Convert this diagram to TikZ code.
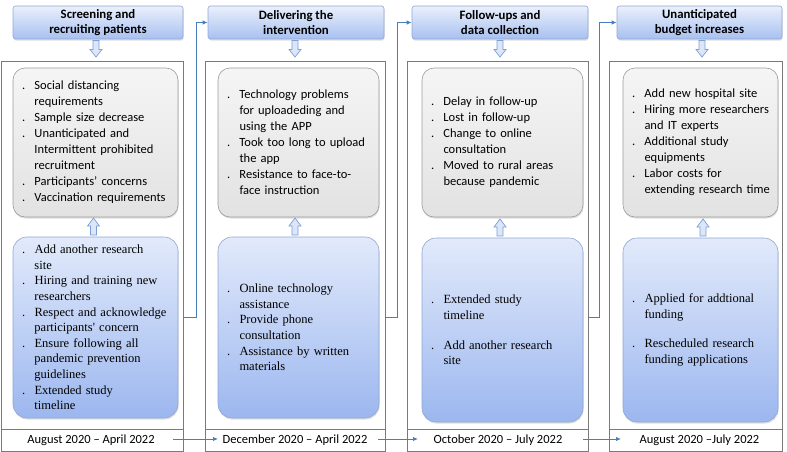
\documentclass[tikz,border=0pt]{standalone}
\usepackage{fontspec}
\setmainfont{Carlito}
\newfontfamily\serifbox{Liberation Serif}
\usetikzlibrary{shadows,arrows.meta}
\definecolor{frame}{HTML}{7A7A7A}
\definecolor{hdrtop}{HTML}{EAF0FC}
\definecolor{hdrbot}{HTML}{A8C0F0}
\definecolor{hdrline}{HTML}{90A8D6}
\definecolor{gtop}{HTML}{F5F5F5}
\definecolor{gbot}{HTML}{E2E2E2}
\definecolor{gline}{HTML}{9C9C9C}
\definecolor{btop}{HTML}{E2EAFB}
\definecolor{bbot}{HTML}{9CB7EF}
\definecolor{bline}{HTML}{8FA6D2}
\definecolor{connc}{HTML}{4A7EBB}
\definecolor{arrline}{HTML}{7A9ED6}
\definecolor{arrfill}{HTML}{DCE6F8}
\newcommand\bl[1]{\mbox{\makebox[12.5pt][l]{.}#1}}
\newcommand\cl[1]{\mbox{\hspace*{12.5pt}#1}}
\newcommand\hollowdown[2]{%
  \filldraw[harr] ({#1-3},{#2}) -- ({#1+3},{#2}) -- ({#1+3},{#2+9}) -- ({#1+6},{#2+9})
    -- ({#1},{#2+16.5}) -- ({#1-6},{#2+9}) -- ({#1-3},{#2+9}) -- cycle;}
\newcommand\hollowup[2]{%
  \filldraw[harr] ({#1-3},{#2}) -- ({#1+3},{#2}) -- ({#1+3},{#2-9}) -- ({#1+6},{#2-9})
    -- ({#1},{#2-17}) -- ({#1-6},{#2-9}) -- ({#1-3},{#2-9}) -- cycle;}
\begin{document}
\begin{tikzpicture}[x=1pt,y=-1pt,
  outer/.style={draw=frame,line width=0.8pt,rectangle,inner sep=0pt,minimum height=390pt},
  hdr/.style={draw=hdrline,line width=0.6pt,rounded corners=2.5pt,top color=hdrtop,bottom color=hdrbot,
     minimum height=33pt,inner sep=0pt,align=center,font=\fontsize{12.8}{15}\selectfont\bfseries,
     drop shadow={opacity=0.25,shadow xshift=0.6pt,shadow yshift=-1.6pt}},
  gbox/.style={draw=gline,line width=0.6pt,rounded corners=12pt,top color=gtop,bottom color=gbot,
     minimum height=149pt,inner xsep=9pt,inner ysep=0pt,align=left,font=\fontsize{12.5}{16}\selectfont,
     drop shadow={opacity=0.25,shadow xshift=0.6pt,shadow yshift=-1.6pt}},
  bbox/.style={draw=bline,line width=0.6pt,rounded corners=14pt,top color=btop,bottom color=bbot,
     inner xsep=9pt,inner ysep=0pt,align=left,font=\serifbox\fontsize{12.5}{15.6}\selectfont,
     drop shadow={opacity=0.25,shadow xshift=0.6pt,shadow yshift=-1.6pt}},
  datef/.style={inner sep=0pt,font=\fontsize{12.5}{14}\selectfont},
  conn/.style={draw=connc,line width=0.9pt},
  harr/.style={draw=arrline,line width=0.7pt,fill=arrfill}]
\useasboundingbox (0,0) rectangle (787,452);

% outer frames
\node[outer,minimum width=182pt] (o1) at (92,256) {};
\node[outer,minimum width=180pt] (o2) at (295,256) {};
\node[outer,minimum width=181pt] (o3) at (497.5,256) {};
\node[outer,minimum width=173pt] (o4) at (695.5,256) {};
\foreach \o in {o1,o2,o3,o4}{
  \draw[draw=frame,line width=0.8pt] (\o.south west) ++(0,-22) coordinate (\o l) -- (\o l -| \o.east);
}

% headers
\node[hdr,minimum width=170pt] (h1) at (98,22.5) {Screening and\\recruiting patients};
\node[hdr,minimum width=176pt] (h2) at (296,22.5) {Delivering the\\intervention};
\node[hdr,minimum width=176pt] (h3) at (500,22.5) {Follow-ups and\\data collection};
\node[hdr,minimum width=165pt] (h4) at (699.5,22.5) {Unanticipated\\budget increases};

% gray boxes
\node[gbox,minimum width=165pt,text width=147pt] (g1) at (95.5,142.5) {%
\bl{Social distancing}\\\cl{requirements}\\\bl{Sample size decrease}\\\bl{Unanticipated and}\\
\cl{Intermittent prohibited}\\\cl{recruitment}\\\bl{Participants{\char39} concerns}\\\bl{Vaccination requirements}};
\node[gbox,minimum width=161pt,text width=143pt] (g2) at (298.5,142.5) {%
\bl{Technology problems}\\\cl{for uploadeding and}\\\cl{using the APP}\\\bl{Took too long to upload}\\
\cl{the app}\\\bl{Resistance to face-to-}\\\cl{face instruction}};
\node[gbox,minimum width=161pt,text width=143pt] (g3) at (502.5,142.5) {%
\bl{Delay in follow-up}\\\bl{Lost in follow-up}\\\bl{Change to online}\\\cl{consultation}\\
\bl{Moved to rural areas}\\\cl{because pandemic}};
\node[gbox,minimum width=155pt,text width=137pt] (g4) at (700.5,142.5) {%
\bl{Add new hospital site}\\\bl{Hiring more researchers}\\\cl{and IT experts}\\\bl{Additional study}\\
\cl{equipments}\\\bl{Labor costs for}\\\cl{extending research time}};

% blue boxes
\node[bbox,minimum width=165pt,text width=147pt,minimum height=181pt] (b1) at (95.5,327.5) {%
\bl{Add another research}\\\cl{site}\\\bl{Hiring and training new}\\\cl{researchers}\\
\bl{Respect and acknowledge}\\\cl{participants{\char39} concern}\\\bl{Ensure following all}\\
\cl{pandemic prevention}\\\cl{guidelines}\\\bl{Extended study}\\\cl{timeline}};
\node[bbox,minimum width=161pt,text width=143pt,minimum height=181pt] (b2) at (298.5,327.5) {%
\bl{Online technology}\\\cl{assistance}\\\bl{Provide phone}\\\cl{consultation}\\
\bl{Assistance by written}\\\cl{materials}};
\node[bbox,minimum width=161pt,text width=143pt,minimum height=184pt] (b3) at (502.5,330) {%
\bl{Extended study}\\\cl{timeline}\\[14pt]\bl{Add another research}\\\cl{site}};
\node[bbox,minimum width=155pt,text width=137pt,minimum height=184pt] (b4) at (700.5,330) {%
\bl{Applied for addtional}\\\cl{funding}\\[14pt]\bl{Rescheduled research}\\\cl{funding applications}};

% hollow arrows
\hollowdown{96}{40.5}
\hollowdown{295}{40.5}
\hollowdown{500}{40.5}
\hollowdown{702}{40.5}
\hollowup{93.5}{235}
\hollowup{295}{235}
\hollowup{500}{236}
\hollowup{703}{236}

% dates
\node[datef] (d1) at (91,440) {August 2020 – April 2022};
\node[datef] (d2) at (295,440) {December 2020 – April 2022};
\node[datef] (d3) at (498,440) {October 2020 – July 2022};
\node[datef] (d4) at (699.5,440) {August 2020 –July 2022};

% connectors between columns
\coordinate (k1) at (196,317);
\coordinate (k2) at (397,317);
\coordinate (k3) at (599,317);
\draw[conn,-{Latex[length=5pt,width=4.5pt]}] (o1.east |- k1) -- (k1) |- (h2.west);
\draw[conn,-{Latex[length=5pt,width=4.5pt]}] (o2.east |- k2) -- (k2) |- (h3.west);
\draw[conn,-{Latex[length=5pt,width=4.5pt]}] (o3.east |- k3) -- (k3) |- (h4.west);

% date arrows
\coordinate (t1a) at (173,439);
\coordinate (t1b) at (218,439);
\coordinate (t2a) at (378,439);
\coordinate (t2b) at (418,439);
\coordinate (t3a) at (583,439);
\coordinate (t3b) at (621,439);
\draw[conn,-{Latex[length=5pt,width=4.5pt]}] (t1a) -- (t1b);
\draw[conn,-{Latex[length=5pt,width=4.5pt]}] (t2a) -- (t2b);
\draw[conn,-{Latex[length=5pt,width=4.5pt]}] (t3a) -- (t3b);
\end{tikzpicture}
\end{document}
